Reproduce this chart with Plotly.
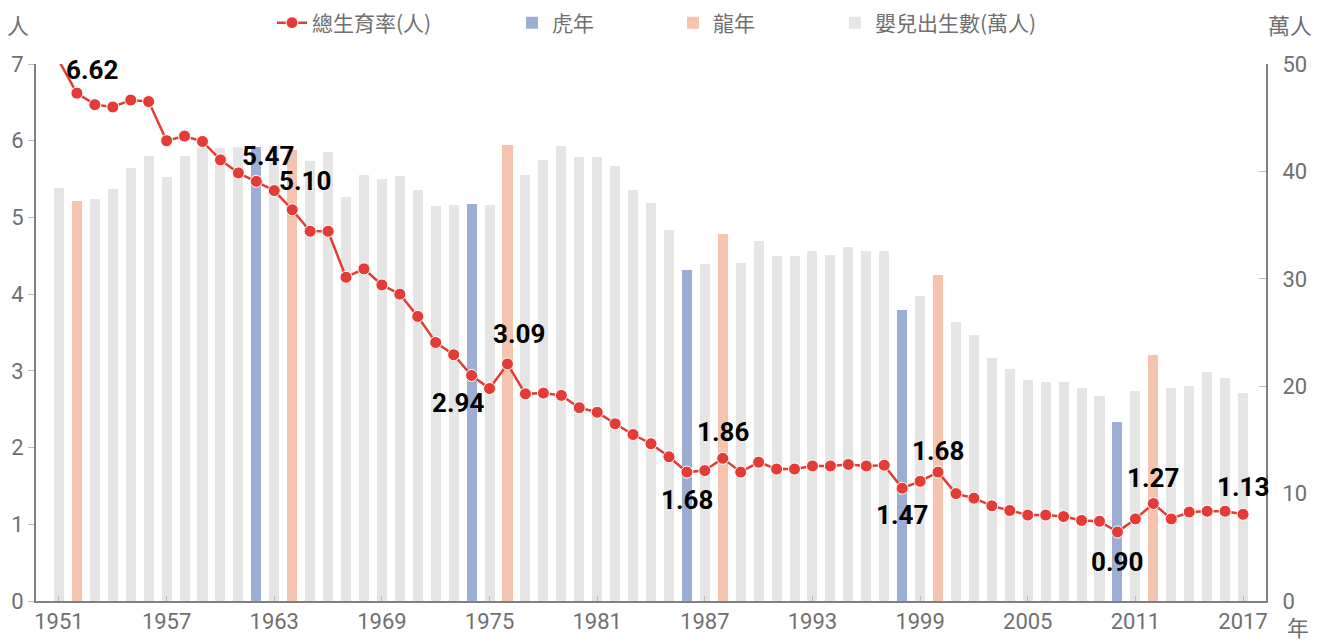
"""
Total fertility rate vs. births per year, tiger and dragon years highlighted.
"""
from __future__ import annotations

import numpy as np
import plotly.graph_objects as go


COLOURS = {
    "tfr": "#e33b35",
    "tiger": "#9daed5",
    "dragon": "#f4c4ae",
    "births": "#e5e5e5",
    "axis": "#808080",
    "text": "#6f6f6f",
}

YEARS = np.arange(1951, 2018)

TFR = np.array([
    7.04, 6.62, 6.47, 6.44, 6.53, 6.51, 6.00, 6.06, 5.99, 5.75,  # 1951-1960
    5.58, 5.47, 5.35, 5.10, 4.82, 4.82, 4.22, 4.33, 4.12, 4.00,  # 1961-1970
    3.71, 3.37, 3.21, 2.94, 2.77, 3.09, 2.70, 2.71, 2.68, 2.52,  # 1971-1980
    2.46, 2.31, 2.17, 2.05, 1.88, 1.68, 1.70, 1.86, 1.68, 1.81,  # 1981-1990
    1.72, 1.72, 1.76, 1.76, 1.78, 1.76, 1.77, 1.47, 1.56, 1.68,  # 1991-2000
    1.40, 1.34, 1.24, 1.18, 1.12, 1.12, 1.10, 1.05, 1.04, 0.90,  # 2001-2010
    1.07, 1.27, 1.07, 1.16, 1.17, 1.17, 1.13,                    # 2011-2017
])

BIRTHS = np.array([
    38.5, 37.2, 37.4, 38.4, 40.3, 41.4, 39.5, 41.4, 42.2, 42.2,
    42.3, 42.3, 42.4, 42.0, 41.0, 41.8, 37.6, 39.7, 39.3, 39.6,
    38.3, 36.8, 36.9, 37.0, 36.9, 42.5, 39.7, 41.1, 42.4, 41.3,
    41.3, 40.5, 38.3, 37.1, 34.5, 30.8, 31.4, 34.2, 31.5, 33.5,
    32.1, 32.1, 32.6, 32.2, 33.0, 32.6, 32.6, 27.1, 28.4, 30.4,
    26.0, 24.8, 22.6, 21.6, 20.6, 20.4, 20.4, 19.8, 19.1, 16.7,
    19.6, 22.9, 19.8, 20.0, 21.3, 20.8, 19.4,
])

TIGER_YEARS = [1962, 1974, 1986, 1998, 2010]
DRAGON_YEARS = [1952, 1964, 1976, 1988, 2000, 2012]

# (year, xshift, yshift) of the value labels on the TFR line
VALUE_LABELS = [
    (1952, 15, 23), (1962, 12, 25), (1964, 13, 29), (1974, -14, -28),
    (1976, 12, 30), (1986, 0, -28), (1988, 0, 26), (1998, 0, -27),
    (2000, 0, 21), (2010, 0, -30), (2012, 0, 26), (2017, 0, 27),
]

PAGE_OFFSET = 8  # the page body adds 8px before the figure
FIG_W, FIG_H = 1314, 633


def _tick_font():
    return dict(family="Roboto, Liberation Sans, sans-serif", size=22, color=COLOURS["text"])


def _legend(xpx):
    """Single-entry legend placed at a pixel position across the top."""
    return dict(
        orientation="h", xref="container", yref="container",
        x=(xpx - PAGE_OFFSET) / FIG_W, y=1 - (23 - PAGE_OFFSET) / FIG_H,
        xanchor="left", yanchor="middle",
        font=dict(family="Noto Sans CJK TC", size=21, color=COLOURS["text"]),
        bgcolor="rgba(0,0,0,0)",
    )


def _births_bar(years, births, keep, name, colour, legend):
    """One bar trace holding only the years in `keep`."""
    mask = np.isin(years, keep)
    return go.Bar(
        x=years[mask], y=births[mask], name=name,
        marker_color=colour, marker_line_width=0, width=0.56,
        legend=legend, yaxis="y",
    )


def plot_tfr_births(years: np.ndarray, tfr: np.ndarray, births: np.ndarray) -> go.Figure:
    """Bars of births (right axis) under the TFR line (left axis)."""
    fig = go.Figure()

    others = [y for y in years if y not in TIGER_YEARS + DRAGON_YEARS]
    fig.add_trace(_births_bar(years, births, TIGER_YEARS, "虎年", COLOURS["tiger"], "legend2"))
    fig.add_trace(_births_bar(years, births, DRAGON_YEARS, "龍年", COLOURS["dragon"], "legend3"))
    fig.add_trace(_births_bar(years, births, others, "嬰兒出生數(萬人)", COLOURS["births"], "legend4"))

    sizes = [0] + [12] * (len(years) - 1)  # 1951 has no marker
    fig.add_trace(go.Scatter(
        x=years, y=tfr, name="總生育率(人)", mode="lines+markers",
        line=dict(color=COLOURS["tfr"], width=2.5),
        marker=dict(color=COLOURS["tfr"], size=sizes, opacity=1),
        yaxis="y2", legend="legend",
    ))

    lookup = dict(zip(years.tolist(), tfr.tolist()))
    for year, dx, dy in VALUE_LABELS:
        fig.add_annotation(
            x=year, y=lookup[year], xref="x", yref="y2",
            text=f"{lookup[year]:.2f}", showarrow=False,
            xshift=dx, yshift=dy,
            font=dict(family="Roboto, sans-serif", size=26, color="black", weight="bold"),
        )

    # unit captions
    cjk = dict(family="Noto Sans CJK TC", size=22, color=COLOURS["text"])
    for text, xpx, ypx in [("人", 18, 24), ("萬人", 1290, 24), ("年", 1298, 626)]:
        fig.add_annotation(
            text=text, x=(xpx - 36) / 1230, y=(601 - ypx) / 537,
            xref="paper", yref="paper", xanchor="center", yanchor="middle",
            showarrow=False, font=cjk,
        )

    fig.update_layout(
        width=FIG_W, height=FIG_H,
        margin=dict(l=36 - PAGE_OFFSET, r=FIG_W + PAGE_OFFSET - 1266,
                    t=64 - PAGE_OFFSET, b=FIG_H + PAGE_OFFSET - 601, autoexpand=False),
        barmode="overlay", bargap=0,
        plot_bgcolor="white", paper_bgcolor="white",
        hovermode=False, showlegend=True,
        legend=_legend(272),
        legend2=_legend(512),
        legend3=_legend(673),
        legend4=_legend(835),
        xaxis=dict(
            range=[1949.72, 2018.28], tickvals=list(range(1951, 2018, 6)),
            showline=True, linecolor=COLOURS["axis"], linewidth=2,
            ticks="inside", ticklen=5, tickcolor="#bbbbbb",
            showgrid=False, zeroline=False, tickfont=_tick_font(),
        ),
        yaxis=dict(
            side="right", range=[0, 50], dtick=10,
            showline=True, linecolor=COLOURS["axis"], linewidth=2,
            ticks="inside", ticklen=7, tickcolor="#bbbbbb", ticklabelstandoff=10,
            showgrid=False, zeroline=False, tickfont=_tick_font(),
        ),
        yaxis2=dict(
            side="left", overlaying="y", range=[0, 7], dtick=1,
            showline=True, linecolor=COLOURS["axis"], linewidth=2,
            ticks="outside", ticklen=6, tickcolor="#bbbbbb",
            showgrid=False, zeroline=False, tickfont=_tick_font(),
        ),
    )
    return fig


fig = plot_tfr_births(YEARS, TFR, BIRTHS)
fig.write_html("out.html")
